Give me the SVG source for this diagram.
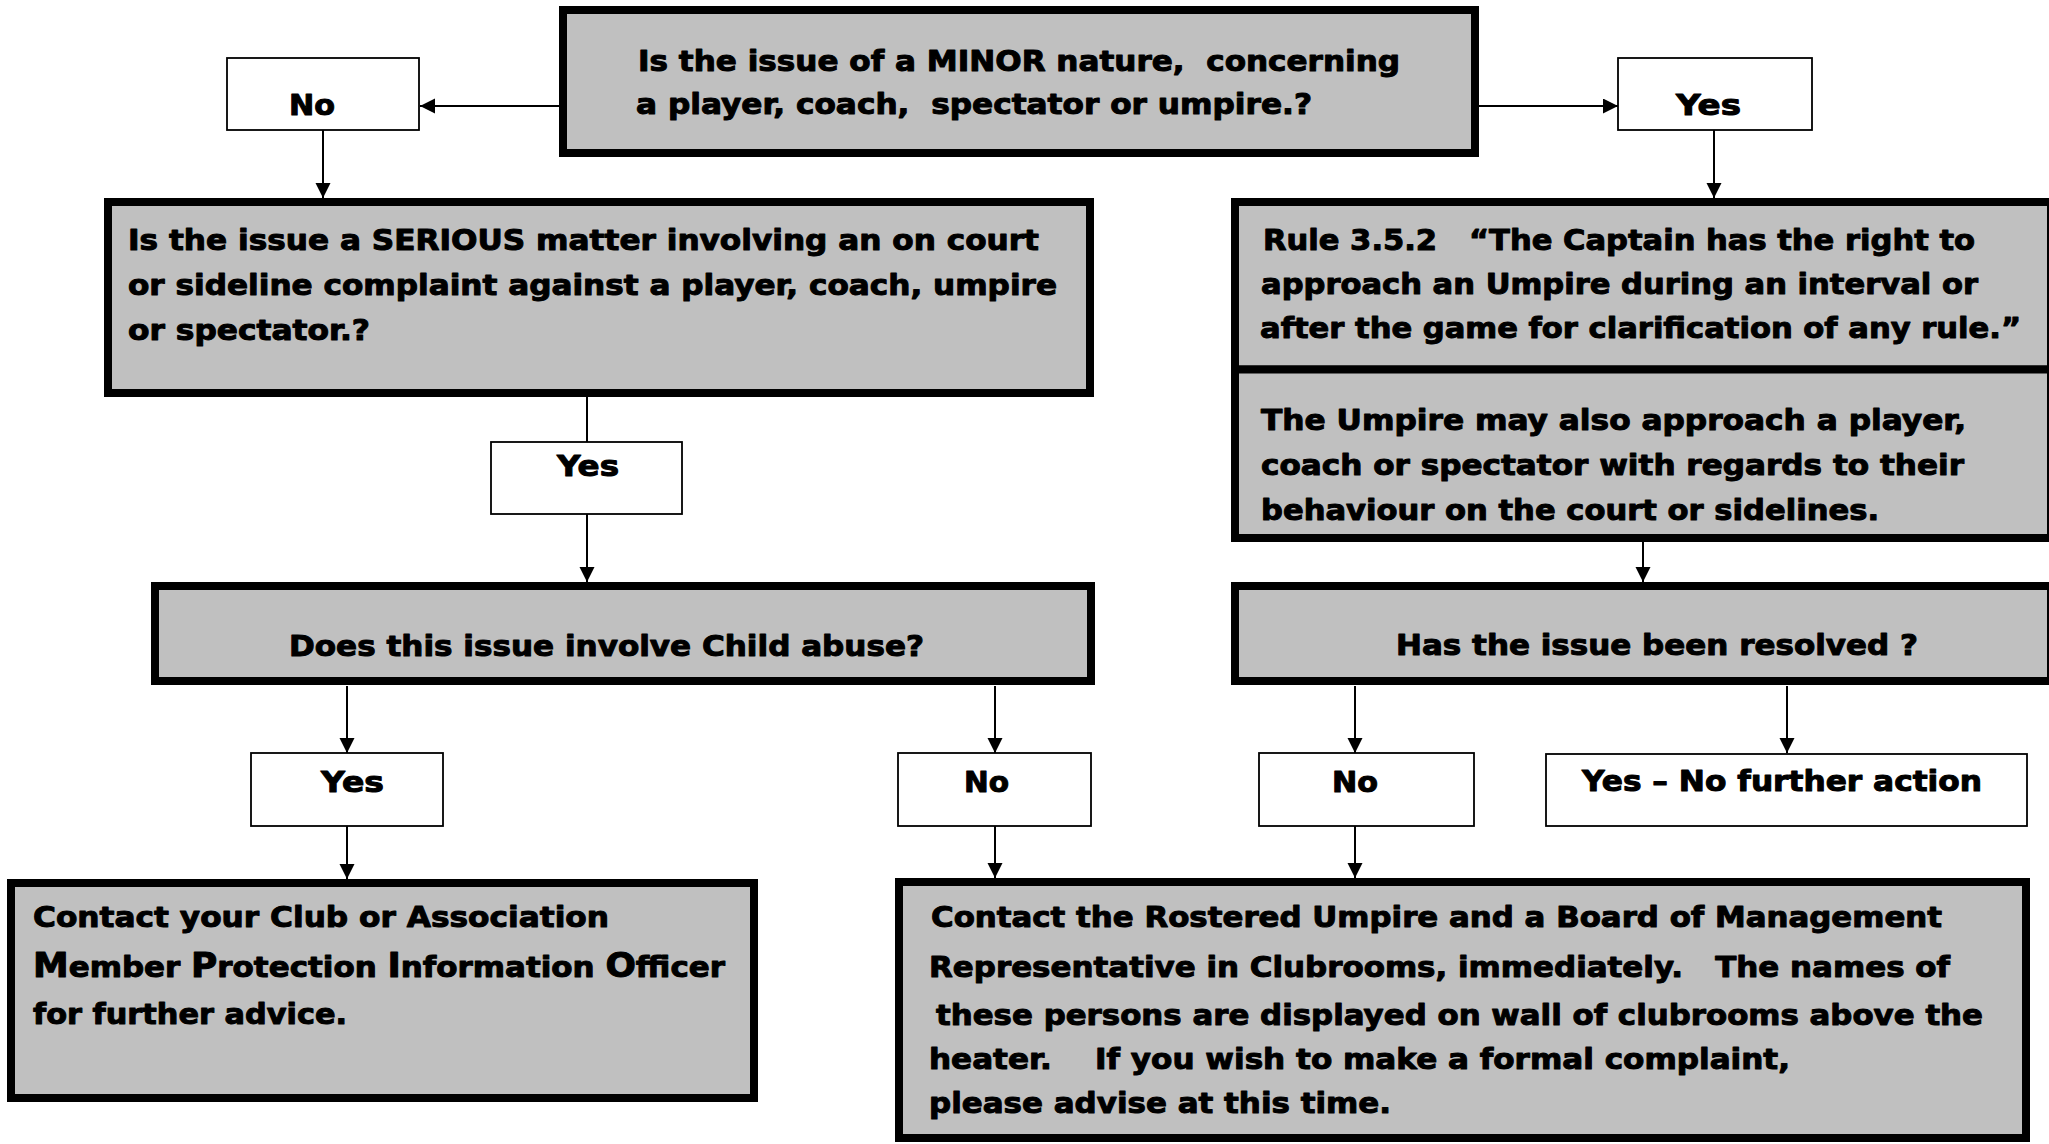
<svg xmlns="http://www.w3.org/2000/svg" width="2049" height="1144" viewBox="0 0 2049 1144">
<style>
.box{fill:#c0c0c0;stroke:#000;stroke-width:8}
.lbl{fill:#fff;stroke:#000;stroke-width:1.8}
text{font-family:"DejaVu Sans","Liberation Sans",sans-serif;font-weight:bold;font-size:28.5px;fill:#000;stroke:#000;stroke-width:1;stroke-linejoin:round;white-space:pre}
.big{font-size:33px}
#connectors line{stroke:#000;stroke-width:2;fill:none}
</style>
<defs>
<marker id="arr" markerUnits="userSpaceOnUse" markerWidth="16" markerHeight="16" refX="15" refY="7.5" orient="auto">
<path d="M0,0 L15,7.5 L0,15 z" fill="#000"/>
</marker>
</defs>
<rect width="2049" height="1144" fill="#fff"/>

<g id="connectors">
<line x1="559" y1="106" x2="420" y2="106" marker-end="url(#arr)"/>
<line x1="1479" y1="106" x2="1618" y2="106" marker-end="url(#arr)"/>
<line x1="323" y1="130" x2="323" y2="198" marker-end="url(#arr)"/>
<line x1="1714" y1="130" x2="1714" y2="198" marker-end="url(#arr)"/>
<line x1="587" y1="397" x2="587" y2="442"/>
<line x1="587" y1="514" x2="587" y2="582" marker-end="url(#arr)"/>
<line x1="347" y1="686" x2="347" y2="753" marker-end="url(#arr)"/>
<line x1="995" y1="686" x2="995" y2="753" marker-end="url(#arr)"/>
<line x1="347" y1="826" x2="347" y2="879" marker-end="url(#arr)"/>
<line x1="995" y1="826" x2="995" y2="878" marker-end="url(#arr)"/>
<line x1="1643" y1="542" x2="1643" y2="582" marker-end="url(#arr)"/>
<line x1="1355" y1="686" x2="1355" y2="753" marker-end="url(#arr)"/>
<line x1="1787" y1="686" x2="1787" y2="753" marker-end="url(#arr)"/>
<line x1="1355" y1="826" x2="1355" y2="878" marker-end="url(#arr)"/>
</g>

<g id="n-minor">
<rect class="box" x="563" y="10" width="912" height="143"/>
<text x="638" y="71" textLength="762" lengthAdjust="spacingAndGlyphs">Is the issue of a MINOR nature,  concerning</text>
<text x="636" y="114" textLength="676" lengthAdjust="spacingAndGlyphs">a player, coach,  spectator or umpire.?</text>
</g>

<g id="n-no-top">
<rect class="lbl" x="227" y="58" width="192" height="72"/>
<text x="289" y="115" textLength="46" lengthAdjust="spacingAndGlyphs">No</text>
</g>

<g id="n-yes-top">
<rect class="lbl" x="1618" y="58" width="194" height="72"/>
<text x="1676" y="115" textLength="65" lengthAdjust="spacingAndGlyphs">Yes</text>
</g>

<g id="n-serious">
<rect class="box" x="108" y="202" width="982" height="191"/>
<text x="128" y="250" textLength="911" lengthAdjust="spacingAndGlyphs">Is the issue a SERIOUS matter involving an on court</text>
<text x="128" y="295" textLength="929" lengthAdjust="spacingAndGlyphs">or sideline complaint against a player, coach, umpire</text>
<text x="128" y="340" textLength="242" lengthAdjust="spacingAndGlyphs">or spectator.?</text>
</g>

<g id="n-yes-serious">
<rect class="lbl" x="491" y="442" width="191" height="72"/>
<text x="557" y="476" textLength="62" lengthAdjust="spacingAndGlyphs">Yes</text>
</g>

<g id="n-child">
<rect class="box" x="155" y="586" width="936" height="95"/>
<text x="289" y="656" textLength="635" lengthAdjust="spacingAndGlyphs">Does this issue involve Child abuse?</text>
</g>

<g id="n-yes-child">
<rect class="lbl" x="251" y="753" width="192" height="73"/>
<text x="321" y="792" textLength="63" lengthAdjust="spacingAndGlyphs">Yes</text>
</g>

<g id="n-no-child">
<rect class="lbl" x="898" y="753" width="193" height="73"/>
<text x="964" y="792" textLength="45" lengthAdjust="spacingAndGlyphs">No</text>
</g>

<g id="n-mpio">
<rect class="box" x="11" y="883" width="743" height="215"/>
<text x="33" y="927" textLength="576" lengthAdjust="spacingAndGlyphs">Contact your Club or Association</text>
<text x="33" y="977" textLength="692" lengthAdjust="spacingAndGlyphs"><tspan class="big">M</tspan>ember <tspan class="big">P</tspan>rotection <tspan class="big">I</tspan>nformation <tspan class="big">O</tspan>fficer</text>
<text x="33" y="1024" textLength="314" lengthAdjust="spacingAndGlyphs">for further advice.</text>
</g>

<g id="n-contact">
<rect class="box" x="899" y="882" width="1127" height="256"/>
<text x="931" y="927" textLength="1011" lengthAdjust="spacingAndGlyphs">Contact the Rostered Umpire and a Board of Management</text>
<text x="929" y="977" textLength="1021" lengthAdjust="spacingAndGlyphs">Representative in Clubrooms, immediately.   The names of</text>
<text x="936" y="1025" textLength="1047" lengthAdjust="spacingAndGlyphs">these persons are displayed on wall of clubrooms above the</text>
<text x="929" y="1069" textLength="861" lengthAdjust="spacingAndGlyphs">heater.    If you wish to make a formal complaint,</text>
<text x="929" y="1113" textLength="462" lengthAdjust="spacingAndGlyphs">please advise at this time.</text>
</g>

<g id="n-rule">
<rect class="box" x="1235" y="202" width="816" height="167.5"/>
<text x="1263" y="250" textLength="712" lengthAdjust="spacingAndGlyphs">Rule 3.5.2   “The Captain has the right to</text>
<text x="1261" y="294" textLength="717" lengthAdjust="spacingAndGlyphs">approach an Umpire during an interval or</text>
<text x="1260" y="338" textLength="761" lengthAdjust="spacingAndGlyphs">after the game for clarification of any rule.”</text>
</g>

<g id="n-umpire">
<rect class="box" x="1235" y="369.5" width="816" height="168.5"/>
<text x="1261" y="430" textLength="705" lengthAdjust="spacingAndGlyphs">The Umpire may also approach a player,</text>
<text x="1261" y="475" textLength="703" lengthAdjust="spacingAndGlyphs">coach or spectator with regards to their</text>
<text x="1261" y="520" textLength="618" lengthAdjust="spacingAndGlyphs">behaviour on the court or sidelines.</text>
</g>

<g id="n-resolved">
<rect class="box" x="1235" y="586" width="816" height="95"/>
<text x="1396" y="655" textLength="522" lengthAdjust="spacingAndGlyphs">Has the issue been resolved ?</text>
</g>

<g id="n-no-resolved">
<rect class="lbl" x="1259" y="753" width="215" height="73"/>
<text x="1332" y="792" textLength="46" lengthAdjust="spacingAndGlyphs">No</text>
</g>

<g id="n-yes-resolved">
<rect class="lbl" x="1546" y="754" width="481" height="72"/>
<text x="1582" y="791" textLength="400" lengthAdjust="spacingAndGlyphs">Yes – No further action</text>
</g>
</svg>
